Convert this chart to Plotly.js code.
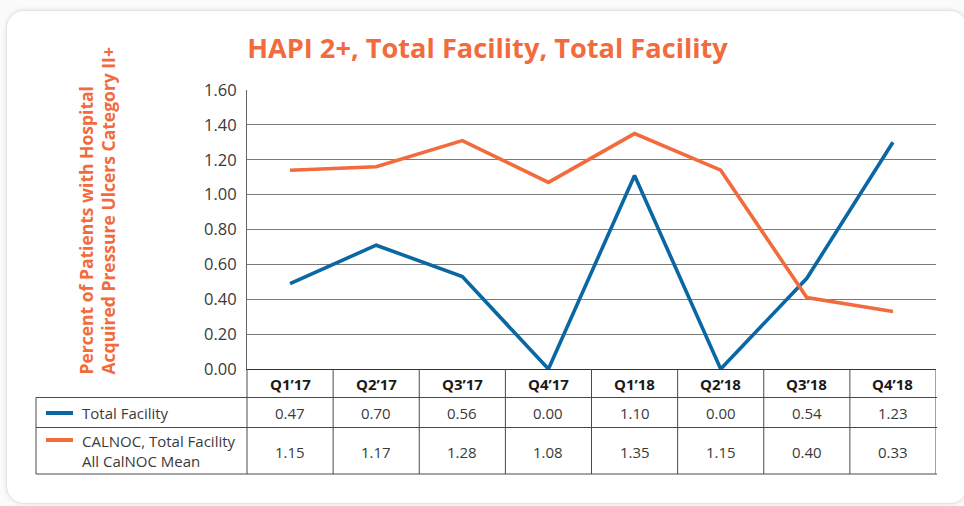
<!DOCTYPE html>
<html>
<head>
<meta charset="utf-8">
<script src="https://cdn.plot.ly/plotly-3.0.1.min.js"></script>
<style>
  html, body { margin: 0; padding: 0; background: #ffffff; }
  #wrap { position: relative; width: 964px; height: 506px; overflow: hidden; background: #fbfbfb; }
  #card { position: absolute; left: 6px; top: 10px; width: 960px; height: 492px;
          background: #ffffff; border: 1px solid #e4e4e4; border-radius: 18px;
          box-shadow: 0 0 5px rgba(0,0,0,0.10); }
  #chart { position: absolute; left: 0; top: 0; width: 964px; height: 506px; }
</style>
</head>
<body>
<div id="wrap"><div id="card"></div><div id="chart"></div></div>
<script>
// ---- data ----
const quarters = ["Q1\u201917", "Q2\u201917", "Q3\u201917", "Q4\u201917", "Q1\u201918", "Q2\u201918", "Q3\u201918", "Q4\u201918"];
const totalFacility = [0.49, 0.71, 0.53, 0.00, 1.11, 0.00, 0.52, 1.30];
const calnocMean = [1.14, 1.16, 1.31, 1.07, 1.35, 1.14, 0.41, 0.33];
const tableTotalFacility = ["0.47", "0.70", "0.56", "0.00", "1.10", "0.00", "0.54", "1.23"];
const tableCalnoc = ["1.15", "1.17", "1.28", "1.08", "1.35", "1.15", "0.40", "0.33"];
const seriesNames = ["Total Facility", "CALNOC, Total Facility<br>All CalNOC Mean"];
const chartTitle = "HAPI 2+, Total Facility, Total Facility";
const yTitle = "Percent of Patients with Hospital<br>Acquired Pressure Ulcers Category II+";

// ---- geometry helpers (pixels -> paper) ----
const W = 964, H = 506;
const L = 247, R = 936, T = 90, B = 369;
const px = x => (x - L) / (R - L);
const py = y => (B - y) / (B - T);

const BLUE = "#0a67a3";
const ORANGE = "#f26b3d";
const BORDER = "#4a4a4a";

const traces = [
  { x: quarters, y: totalFacility, type: "scatter", mode: "lines", name: seriesNames[0],
    line: { color: BLUE, width: 3.6 }, hoverinfo: "skip" },
  { x: quarters, y: calnocMean, type: "scatter", mode: "lines", name: seriesNames[1],
    line: { color: ORANGE, width: 3.6 }, hoverinfo: "skip" }
];

const shapes = [];
const annotations = [];

// table horizontal lines
const rowLines = [397.5, 427.5, 474];
rowLines.forEach(y => shapes.push({ type: "line", xref: "paper", yref: "paper",
  x0: px(36), x1: px(937), y0: py(y), y1: py(y), line: { color: BORDER, width: 1 } }));
// table left edge & first-column divider
shapes.push({ type: "line", xref: "paper", yref: "paper", x0: px(36), x1: px(36),
  y0: py(397.5), y1: py(474), line: { color: BORDER, width: 1 } });
shapes.push({ type: "line", xref: "paper", yref: "paper", x0: 0, x1: 0,
  y0: py(369), y1: py(474), line: { color: BORDER, width: 1 } });
// column dividers (data-x)
for (let i = 0; i < quarters.length; i++) {
  const xb = i + 0.5;
  shapes.push({ type: "line", xref: "x", yref: "paper", x0: xb, x1: xb,
    y0: py(369), y1: py(474), line: { color: BORDER, width: 1 } });
}
// legend swatches
shapes.push({ type: "line", xref: "paper", yref: "paper", x0: px(46), x1: px(73),
  y0: py(413), y1: py(413), line: { color: BLUE, width: 4 } });
shapes.push({ type: "line", xref: "paper", yref: "paper", x0: px(46), x1: px(73),
  y0: py(440), y1: py(440), line: { color: ORANGE, width: 4 } });

const tfont = { family: "Open Sans, sans-serif", size: 15, color: "#3a3a3a" };
quarters.forEach((q, i) => {
  annotations.push({ x: q, xref: "x", yref: "paper", y: py(383.5), text: "<b>" + q + "</b>",
    showarrow: false, font: { family: "Open Sans, sans-serif", size: 15, color: "#1a1a1a" },
    xanchor: "center", yanchor: "middle" });
  annotations.push({ x: q, xref: "x", yref: "paper", y: py(413), text: tableTotalFacility[i],
    showarrow: false, font: tfont, xanchor: "center", yanchor: "middle" });
  annotations.push({ x: q, xref: "x", yref: "paper", y: py(451.5), text: tableCalnoc[i],
    showarrow: false, font: tfont, xanchor: "center", yanchor: "middle" });
});
annotations.push({ x: px(80), xref: "paper", yref: "paper", y: py(413), text: seriesNames[0],
  showarrow: false, font: tfont, xanchor: "left", yanchor: "middle", align: "left" });
annotations.push({ x: px(80), xref: "paper", yref: "paper", y: py(451), text: seriesNames[1],
  showarrow: false, font: tfont, xanchor: "left", yanchor: "middle", align: "left" });
// y-axis title
annotations.push({ x: px(97), xref: "paper", yref: "paper", y: py(211.5), text: yTitle,
  textangle: -90, showarrow: false, align: "left",
  font: { family: "Open Sans, sans-serif", size: 17.5, color: ORANGE, weight: 700 },
  xanchor: "center", yanchor: "middle" });

const layout = {
  width: W, height: H,
  paper_bgcolor: "rgba(0,0,0,0)", plot_bgcolor: "rgba(0,0,0,0)",
  margin: { l: L, r: W - R, t: T, b: H - B, pad: 0 },
  showlegend: false,
  title: { text: "<b>" + chartTitle + "</b>", x: 487.5 / W, xanchor: "center", xref: "container",
    y: 1 - 48 / H, yanchor: "middle", yref: "container",
    font: { family: "Open Sans, sans-serif", size: 27.2, color: ORANGE } },
  xaxis: { type: "category", range: [-0.5, 7.5], showgrid: false, zeroline: false,
    showticklabels: false, ticks: "", showline: true, linecolor: "#333", linewidth: 1 },
  yaxis: { range: [0, 1.6], dtick: 0.2, tickformat: ".2f", showgrid: true, gridcolor: "#7a7a7a",
    gridwidth: 1, zeroline: false, showline: true, linecolor: "#666", linewidth: 1,
    ticks: "", ticklabelstandoff: 6,
    tickfont: { family: "Open Sans, sans-serif", size: 16.5, color: "#3a3a3a" } },
  shapes: shapes,
  annotations: annotations
};

Plotly.newPlot("chart", traces, layout, { displayModeBar: false, staticPlot: true });
</script>
</body>
</html>
